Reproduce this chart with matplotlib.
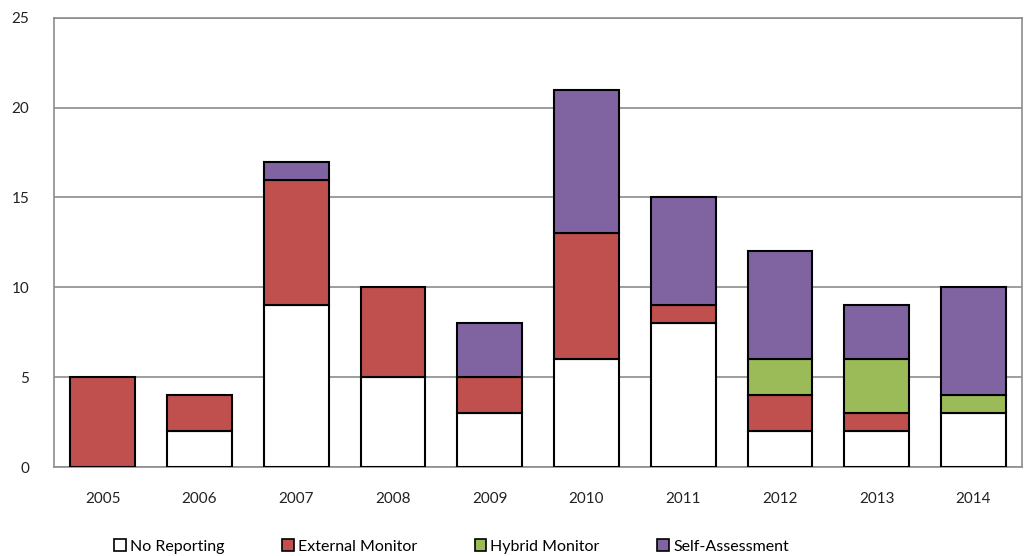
import numpy as np
import matplotlib.pyplot as plt
from matplotlib.patches import Patch

plt.rcParams['font.family'] = ['Lato', 'DejaVu Sans']

years = ['2005', '2006', '2007', '2008', '2009', '2010', '2011', '2012', '2013', '2014']
no_reporting = [0, 2, 9, 5, 3, 6, 8, 2, 2, 3]
external_monitor = [5, 2, 7, 5, 2, 7, 1, 2, 1, 0]
hybrid_monitor = [0, 0, 0, 0, 0, 0, 0, 2, 3, 1]
self_assessment = [0, 0, 1, 0, 3, 8, 6, 6, 3, 6]

series = [
    ('No Reporting', no_reporting, '#FFFFFF'),
    ('External Monitor', external_monitor, '#C0504D'),
    ('Hybrid Monitor', hybrid_monitor, '#9BBB59'),
    ('Self-Assessment', self_assessment, '#8064A2'),
]

fig = plt.figure(figsize=(10.26, 5.56), dpi=100)
ax = fig.add_axes([0.053, 0.160, 0.943, 0.808])

x = np.arange(len(years))
bottom = np.zeros(len(years))
for name, vals, color in series:
    vals = np.array(vals, dtype=float)
    mask = vals > 0
    ax.bar(x[mask], vals[mask], width=0.67, bottom=bottom[mask], color=color,
           edgecolor='black', linewidth=1.5, zorder=3)
    bottom += vals

ax.set_xlim(-0.5, len(years) - 0.5)
ax.set_ylim(0, 25)
ax.set_yticks(range(0, 26, 5))
ax.set_xticks(x)
ax.set_xticklabels(years)
ax.tick_params(length=0, labelsize=11, colors='#222222')
ax.tick_params(axis='y', pad=18)
ax.tick_params(axis='x', pad=18)
ax.yaxis.grid(True, color='#8c8c8c', linewidth=1.2, zorder=0)
for s in ax.spines.values():
    s.set_color('#8c8c8c')
    s.set_linewidth(1.2)

handles = [Patch(facecolor=c, edgecolor='black', linewidth=1.2, label=n) for n, _, c in series]
fig.legend(handles=handles, loc='lower center', bbox_to_anchor=(0.44, -0.022), ncol=4,
           frameon=False, fontsize=11.5, handlelength=0.75, handleheight=0.75,
           handletextpad=0.25, columnspacing=3.6)

fig.savefig('out.png', dpi=100)
